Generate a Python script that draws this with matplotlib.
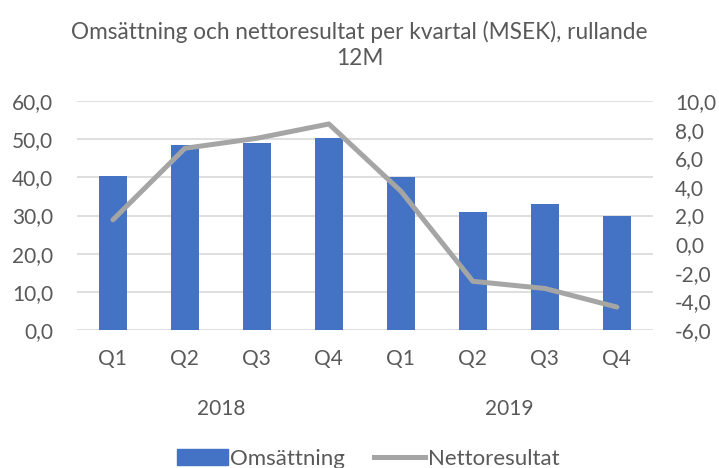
import numpy as np
import matplotlib
matplotlib.use("Agg")
import matplotlib.pyplot as plt
from matplotlib.patches import Patch
from matplotlib.lines import Line2D

plt.rcParams['font.family'] = ['Lato', 'DejaVu Sans']

# Data
quarters = ['Q1', 'Q2', 'Q3', 'Q4', 'Q1', 'Q2', 'Q3', 'Q4']
years = ['2018', '2019']
omsattning = [40.4, 48.4, 49.1, 50.3, 40.1, 30.9, 33.0, 30.0]
nettoresultat = [1.7, 6.7, 7.4, 8.4, 3.7, -2.6, -3.1, -4.4]

bar_color = '#4472c4'
line_color = '#a5a5a5'
text_color = '#595959'
grid_color = '#d9d9d9'

fig = plt.figure(figsize=(7.19, 4.68), dpi=100)
ax = fig.add_axes([0.107, 0.295, 0.801, 0.489])
ax2 = ax.twinx()

x = np.arange(len(quarters))
ax.bar(x, omsattning, width=0.39, color=bar_color, zorder=2)
ax2.plot(x, nettoresultat, color=line_color, linewidth=3.6, solid_capstyle='round', zorder=3)

ax.set_xlim(-0.5, len(quarters) - 0.5)
ax.set_ylim(0, 60)
ax.set_yticks(np.arange(0, 61, 10))
ax2.set_ylim(-6, 10)
ax2.set_yticks(np.arange(-6, 11, 2))

fmt = lambda v: f"{v:.1f}".replace('.', ',')
ax.set_yticklabels([fmt(v) for v in ax.get_yticks()])
ax2.set_yticklabels([fmt(v) for v in ax2.get_yticks()])

ax.set_xticks(x)
ax.set_xticklabels(quarters)

ax.grid(axis='y', color=grid_color, linewidth=1.2, zorder=0)
ax.set_axisbelow(True)
for a in (ax, ax2):
    for s in a.spines.values():
        s.set_visible(False)
    a.tick_params(length=0, labelsize=15, colors=text_color)
ax.tick_params(axis='x', pad=14)
ax.tick_params(axis='y', pad=17)
ax2.tick_params(axis='y', pad=16)

# year labels under each group of four quarters
for i, yr in enumerate(years):
    ax.text(i * 4 + 1.5, -0.3, yr, transform=ax.get_xaxis_transform(),
            ha='center', va='top', fontsize=15, color=text_color)

fig.text(0.5, 0.904, 'Omsättning och nettoresultat per kvartal (MSEK), rullande\n12M',
         ha='center', va='center', fontsize=16.3, color=text_color, linespacing=1.33)

handles = [Patch(color=bar_color), Line2D([0], [0], color=line_color, linewidth=3.6)]
fig.legend(handles, ['Omsättning', 'Nettoresultat'], loc='center', bbox_to_anchor=(0.512, 0.02),
           ncol=2, frameon=False, fontsize=16, labelcolor=text_color,
           handlelength=2.3, handletextpad=0.1, columnspacing=1.3)

fig.savefig('out.png', dpi=100)
